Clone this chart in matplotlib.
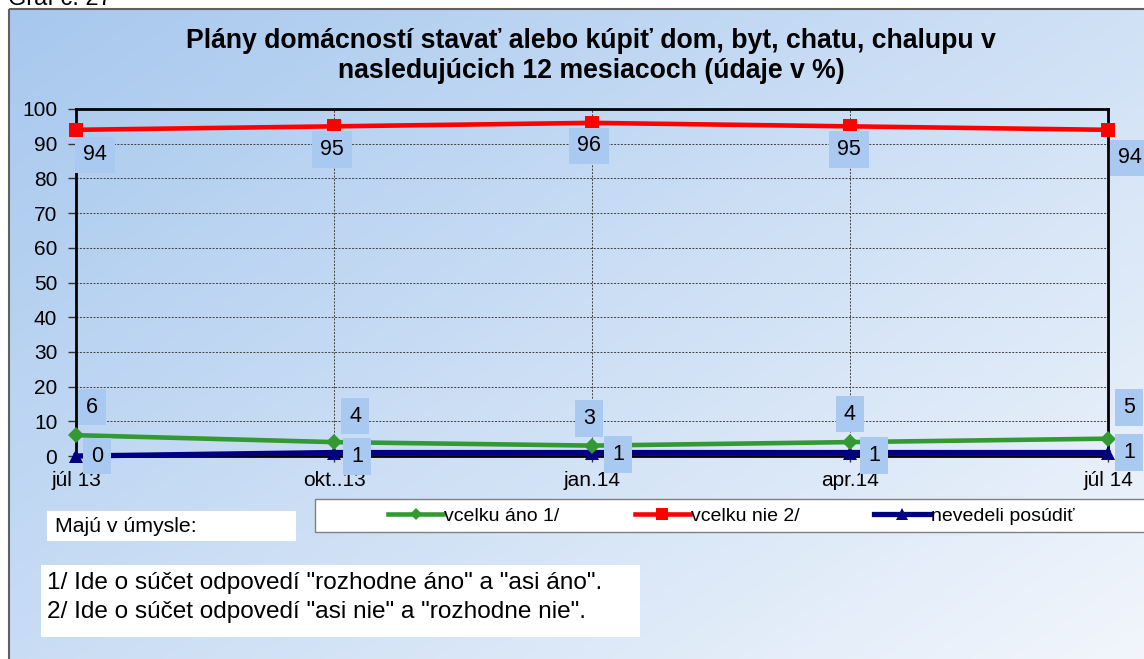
import numpy as np
import matplotlib
matplotlib.use("Agg")
import matplotlib.pyplot as plt
from matplotlib.patches import Rectangle
from matplotlib.colors import to_rgb

plt.rcParams['font.family'] = ['Liberation Sans', 'DejaVu Sans']

categories = ["júl 13", "okt..13", "jan.14", "apr.14", "júl 14"]
vcelku_ano = [6, 4, 3, 4, 5]
vcelku_nie = [94, 95, 96, 95, 94]
nevedeli = [0, 1, 1, 1, 1]
series_names = ["vcelku áno 1/", "vcelku nie 2/", "nevedeli posúdiť"]
title = "Plány domácností stavať alebo kúpiť dom, byt, chatu, chalupu v\nnasledujúcich 12 mesiacoch (údaje v %)"
yticks = list(range(0, 101, 10))

W, H = 1144, 659
fig = plt.figure(figsize=(W / 100, H / 100), dpi=100)

def fx(px):
    return px / W

def fy(py):
    return 1 - py / H

# Background gradient panel
bg = fig.add_axes([0, 0, 1, 1], zorder=-10)
bg.set_xlim(0, W)
bg.set_ylim(H, 0)
bg.axis('off')
c0 = np.array(to_rgb('#a7c8ee'))
c1 = np.array(to_rgb('#f2f6fc'))
nx, ny = 200, 120
u = np.linspace(0, 1, nx)[None, :]
v = np.linspace(0, 1, ny)[:, None]
t = (u * 0.55 + v * 0.45)
img = c0[None, None, :] * (1 - t[..., None]) + c1[None, None, :] * t[..., None]
bg.imshow(img, extent=(9, W + 5, H + 5, 9), aspect='auto', interpolation='bilinear')
bg.add_patch(Rectangle((8.5, 8.5), W, H, fill=False, ec='#606060', lw=1.5))
# white boxes
bg.add_patch(Rectangle((47, 511), 249, 30, fc='white', ec='none'))
bg.add_patch(Rectangle((41, 565), 599, 72, fc='white', ec='none'))
bg.add_patch(Rectangle((315, 499), 840, 33, fc='white', ec='#808080', lw=1.0))

fig.text(fx(8), fy(5), "Graf č. 27", fontsize=17, va='baseline', ha='left', color='black')

fig.text(fx(591), fy(56), title, ha='center', va='center', fontsize=19.2,
         fontweight='bold', linespacing=1.2)

fig.text(fx(55), fy(527), "Majú v úmysle:", fontsize=15.3, va='center', ha='left')
fig.text(fx(47), fy(583), '1/ Ide o súčet odpovedí "rozhodne áno" a "asi áno".', fontsize=17.6, va='center', ha='left')
fig.text(fx(47), fy(612), '2/ Ide o súčet odpovedí "asi nie" a "rozhodne nie".', fontsize=17.6, va='center', ha='left')

# Main plot
ax = fig.add_axes([fx(76), fy(456), fx(1108 - 76), (456 - 109) / H])
ax.patch.set_alpha(0)
x = np.arange(len(categories))
ax.set_xlim(0, len(categories) - 1)
ax.set_ylim(0, 100)
ax.set_yticks(yticks)
ax.set_xticks(x)
ax.set_xticklabels(categories)
ax.tick_params(axis='both', labelsize=15, color='#333333', width=1)
ax.tick_params(axis='y', length=5.5, pad=8)
ax.tick_params(axis='x', length=4, pad=7)
ax.grid(True, linestyle=(0, (2, 1.5)), color='#404040', lw=0.7)
for s in ax.spines.values():
    s.set_linewidth(2)
    s.set_color('black')

colors = ['#339933', '#ff0000', '#000080']
markers = ['D', 's', '^']
msizes = [8, 10, 10.5]
lws = [3.3, 3.3, 3.8]
data = [vcelku_ano, vcelku_nie, nevedeli]
handles = []
for d, c, m, ms, lw, name, z in zip(data, colors, markers, msizes, lws, series_names, [4, 4, 3]):
    h, = ax.plot(x, d, color=c, marker=m, ms=ms, lw=lw, label=name, clip_on=False, zorder=z,
                 markeredgewidth=0)
    handles.append(h)

lab_fc = '#a9c9f0'
pt = 72 / 100
# per-point label offsets (pixels) mimicking the reference placement
off_green = [(16, 28), (21, 26), (-3, 27), (0, 28), (21, 31)]
off_red = [(19, -25), (-2, -23), (-3, -23), (-1, -23), (22, -28)]
off_navy = [(21, 0), (23, -4), (26, -2), (24, -3), (21, 0)]
for d, offs in zip(data, [off_green, off_red, off_navy]):
    for xi, yi, (dx, dy) in zip(x, d, offs):
        ax.annotate(str(yi), (xi, yi), xytext=(dx * pt, dy * pt), textcoords='offset points',
                    ha='center', va='center', fontsize=15.5, annotation_clip=False, zorder=6,
                    bbox=dict(boxstyle='square,pad=0.36', fc=lab_fc, ec='none'))

leg = fig.legend(handles=handles, loc='center left', bbox_to_anchor=(fx(388), fy(516)), ncol=3,
                 frameon=False, fontsize=14, handlelength=2.85, handletextpad=0.05,
                 columnspacing=3.85, markerscale=0.8, borderpad=0, borderaxespad=0)

fig.savefig("out.png", dpi=100)
